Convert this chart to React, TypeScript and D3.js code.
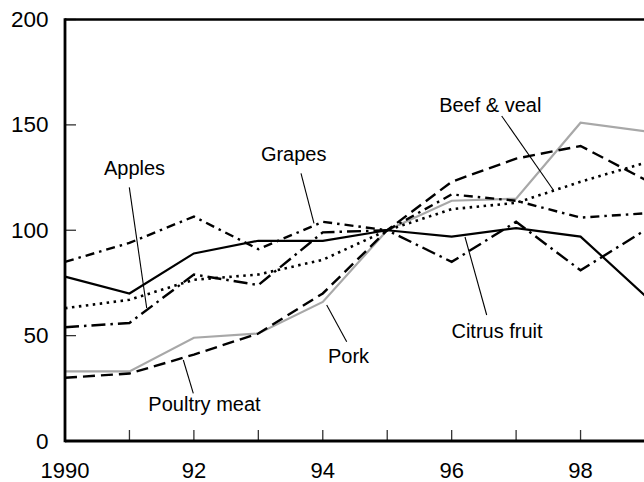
import React from "react";
import * as d3 from "d3";

const years = [1990, 1991, 1992, 1993, 1994, 1995, 1996, 1997, 1998, 1999];
const citrus = [78, 70, 89, 95, 95, 100, 97, 101, 97, 69];
const pork = [33, 33, 49, 51, 66, 100, 114, 115, 151, 147];
const poultry = [30, 32, 41, 51, 70, 100, 123, 134, 140, 124];
const beef = [63, 67, 76.5, 79, 86, 100, 110, 113, 123, 132];
const apples = [54, 56, 79, 74, 99, 100, 85, 104, 81, 100];
const grapes = [85, 94, 106.5, 91, 104, 100, 117, 114, 106, 108];

const yTicks = [0, 50, 100, 150, 200];
const xLabelYears = [1990, 1992, 1994, 1996, 1998];
const xLabelText = ["1990", "92", "94", "96", "98"];

const W = 644;
const H = 482;
const FONT = "'Liberation Sans', Arial, Helvetica, sans-serif";

type Series = {
  name: string;
  values: number[];
  color: string;
  width: number;
  dash?: string;
};

const series: Series[] = [
  { name: "Pork", values: pork, color: "#a8a8a8", width: 2.2 },
  { name: "Poultry meat", values: poultry, color: "#000", width: 2.4, dash: "12,6" },
  { name: "Beef & veal", values: beef, color: "#000", width: 2.6, dash: "2.5,4.5" },
  { name: "Grapes", values: grapes, color: "#000", width: 2.4, dash: "9,5,2.5,5" },
  { name: "Apples", values: apples, color: "#000", width: 2.4, dash: "14,5,2.5,5" },
  { name: "Citrus fruit", values: citrus, color: "#000", width: 2.2 },
];

// label: text anchor point (middle, baseline) and leader line endpoints
const labels = [
  { text: "Apples", x: 134.5, y: 175, l: [129.3, 187.3, 146.7, 308] },
  { text: "Grapes", x: 293.7, y: 160.5, l: [301, 173.3, 314, 223.3] },
  { text: "Beef & veal", x: 490.3, y: 111.5, l: [501.7, 116, 553.3, 190] },
  { text: "Citrus fruit", x: 497, y: 338.3, l: [465, 237, 486.7, 315] },
  { text: "Pork", x: 348.5, y: 363, l: [326.7, 305, 346.7, 341.7] },
  { text: "Poultry meat", x: 204.5, y: 410.5, l: [183.3, 360, 193.3, 393.3] },
];

export default function App() {
  const x = d3.scaleLinear().domain([1990, 1999]).range([65, 645]);
  const y = d3.scaleLinear().domain([0, 200]).range([441, 19.5]);
  const line = d3
    .line<number>()
    .x((_, i) => x(years[i]))
    .y((d) => y(d));
  const tickYears = d3.range(1991, 2000);

  return (
    <svg
      width={W}
      height={H}
      style={{ position: "absolute", left: 0, top: 0, background: "#fff" }}
      fontFamily={FONT}
    >
      <rect x={0} y={0} width={W} height={H} fill="#fff" />
      {/* y ticks */}
      {yTicks.map((t) => (
        <g key={"y" + t}>
          <line x1={65} x2={76} y1={y(t)} y2={y(t)} stroke="#333" strokeWidth={1.3} />
          <text
            x={48.5}
            y={y(t)}
            textAnchor="end"
            dominantBaseline="central"
            fontSize={22.5}
            fill="#000"
          >
            {t}
          </text>
        </g>
      ))}
      {/* x ticks */}
      {tickYears.map((t) => (
        <line key={"x" + t} x1={x(t)} x2={x(t)} y1={441} y2={430} stroke="#333" strokeWidth={1.3} />
      ))}
      {xLabelYears.map((t, i) => (
        <text key={"xl" + t} x={x(t)} y={477.5} textAnchor="middle" fontSize={22} fill="#000">
          {xLabelText[i]}
        </text>
      ))}
      {/* series */}
      {series.map((s) => (
        <path
          key={s.name}
          d={line(s.values) || ""}
          fill="none"
          stroke={s.color}
          strokeWidth={s.width}
          strokeDasharray={s.dash}
          strokeLinejoin="miter"
        />
      ))}
      {/* frame */}
      <line x1={65} x2={645} y1={19.5} y2={19.5} stroke="#000" strokeWidth={2.5} />
      <line x1={65} x2={645} y1={441} y2={441} stroke="#000" strokeWidth={2.8} />
      <line x1={65} x2={65} y1={18.3} y2={442.3} stroke="#000" strokeWidth={2.8} />
      {/* labels */}
      {labels.map((lb) => (
        <g key={lb.text}>
          <line x1={lb.l[0]} y1={lb.l[1]} x2={lb.l[2]} y2={lb.l[3]} stroke="#000" strokeWidth={1.1} />
          <text x={lb.x} y={lb.y} textAnchor="middle" fontSize={20} fill="#000">
            {lb.text}
          </text>
        </g>
      ))}
    </svg>
  );
}
